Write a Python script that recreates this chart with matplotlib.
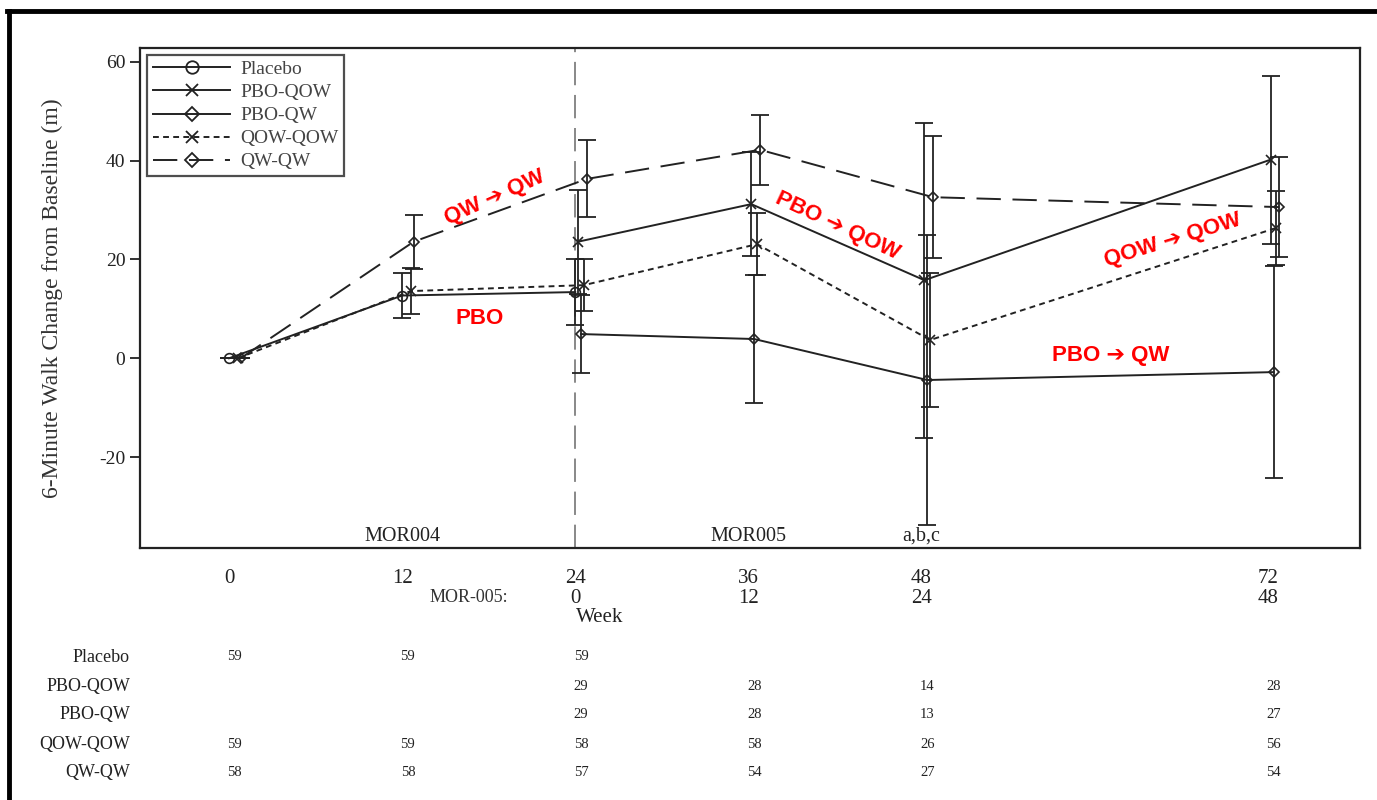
import matplotlib
matplotlib.use("Agg")
import matplotlib.pyplot as plt
from matplotlib.lines import Line2D
from matplotlib.transforms import blended_transform_factory

plt.rcParams["axes.unicode_minus"] = False

# ---- data ----
groups = ["Placebo", "PBO-QOW", "PBO-QW", "QOW-QOW", "QW-QW"]

placebo_wk = [0, 12, 24]
placebo_mean = [0.0, 12.7, 13.4]
placebo_err = [0.0, 4.5, 6.6]

pbo_qow_wk = [24, 36, 48, 72]
pbo_qow_mean = [23.6, 31.2, 15.8, 40.2]
pbo_qow_err = [10.5, 10.6, 31.9, 17.0]

pbo_qw_wk = [24, 36, 48, 72]
pbo_qw_mean = [4.9, 3.9, -4.4, -2.8]
pbo_qw_err = [7.9, 13.0, 29.3, 21.5]

qow_qow_wk = [0, 12, 24, 36, 48, 72]
qow_qow_mean = [0.0, 13.6, 14.8, 23.1, 3.7, 26.4]
qow_qow_err = [0.0, 4.6, 5.3, 6.3, 13.6, 7.5]

qw_qw_wk = [0, 12, 24, 36, 48, 72]
qw_qw_mean = [0.0, 23.6, 36.3, 42.2, 32.6, 30.6]
qw_qw_err = [0.0, 5.5, 7.8, 7.1, 12.3, 10.2]

week_ticks = [0, 12, 24, 36, 48, 72]
week_labels = ["0", "12", "24\n0", "36\n12", "48\n24", "72\n48"]

# subjects at risk table
n_weeks = [0, 12, 24, 36, 48, 72]
n_placebo = [59, 59, 59, None, None, None]
n_pbo_qow = [None, None, 29, 28, 14, 28]
n_pbo_qw = [None, None, 29, 28, 13, 27]
n_qow_qow = [59, 59, 58, 58, 26, 56]
n_qw_qw = [58, 58, 57, 54, 27, 54]

SERIF = ["Liberation Serif", "DejaVu Serif"]
INK = "#222222"

fig = plt.figure(figsize=(13.77, 8.0), dpi=100)
ax = fig.add_axes([0.1017, 0.315, 0.886, 0.625])

series = [
    (placebo_wk, placebo_mean, placebo_err, "o", "-", 0.0),
    (pbo_qow_wk, pbo_qow_mean, pbo_qow_err, "x", "-", 0.2),
    (pbo_qw_wk, pbo_qw_mean, pbo_qw_err, "D", "-", 0.4),
    (qow_qow_wk, qow_qow_mean, qow_qow_err, "x", (0, (3, 2.2)), 0.6),
    (qw_qw_wk, qw_qw_mean, qw_qw_err, "D", (0, (12.5, 6)), 0.8),
]

handles = []
for name, (wk, m, e, mk, ls, off) in zip(groups, series):
    xs = [w + off for w in wk]
    ax.errorbar(xs, m, yerr=e, fmt="none", ecolor=INK, elinewidth=1.3,
                capsize=6.5, capthick=1.3, zorder=2)
    ms = 5.5 if mk == "D" else 7
    ax.plot(xs, m, color=INK, lw=1.4, ls=ls, marker=mk, ms=ms,
            mfc="none", mec=INK, mew=1.2, zorder=3)
    handles.append(Line2D([], [], color=INK, lw=1.4, ls=ls, marker=mk,
                          ms=ms + 2, mfc="none", mec=INK, mew=1.3))

ax.axvline(24, color="#888888", lw=1.4, ls=(0, (12, 5)), zorder=1)

ax.set_xlim(-6.17, 78.4)
ax.set_ylim(-38.4, 62.8)
ax.set_yticks([60, 40, 20, 0, -20])
ax.set_xticks(week_ticks)
ax.set_xticklabels(week_labels, fontfamily=SERIF, fontsize=15,
                   linespacing=1.05, color=INK)
ax.tick_params(axis="x", length=0, pad=15)
ax.tick_params(axis="y", length=7, width=1.3, labelsize=14, colors=INK)
for lbl in ax.get_yticklabels():
    lbl.set_fontfamily(SERIF)
for sp in ax.spines.values():
    sp.set_linewidth(1.6)
    sp.set_color(INK)

ax.set_ylabel("6-Minute Walk Change from Baseline (m)", fontfamily=SERIF,
              fontsize=17, color="#333333", labelpad=26)

leg = ax.legend(handles, groups, loc="upper left", handlelength=4.0,
                prop={"family": SERIF, "size": 14}, fancybox=False,
                edgecolor=INK, borderaxespad=0.35, labelspacing=0.28,
                handletextpad=0.5, borderpad=0.3)
leg.get_frame().set_linewidth(1.6)
for t in leg.get_texts():
    t.set_color("#444444")

# study labels along the bottom of the plot
for xw, s in [(12, "MOR004"), (36, "MOR005"), (48, "a,b,c")]:
    ax.text(xw, 0.004, s, transform=blended_transform_factory(ax.transData, ax.transAxes),
            ha="center", va="bottom", fontfamily=SERIF, fontsize=14.5, color=INK)

# second x-axis row label and axis title
fig.text(508 / 1377, 1 - 598 / 800, "MOR-005:", ha="right", va="center",
         fontfamily=SERIF, fontsize=13, color="#333333")
fig.text(600 / 1377, 1 - 618 / 800, "Week", ha="center", va="center",
         fontfamily=SERIF, fontsize=15, color=INK)

# red annotations
RED_FONT = ["Liberation Sans", "DejaVu Sans"]
notes = [
    ("QW \u2794 QW", 18.4, 32.6, 24),
    ("PBO", 17.4, 8.1, 0),
    ("PBO \u2794 QOW", 42.2, 26.7, -25),
    ("QOW \u2794 QOW", 65.4, 23.9, 17),
    ("PBO \u2794 QW", 61.1, 0.6, 0),
]
for s, xw, yv, rot in notes:
    ax.text(xw, yv, s, color="#ff0000", fontweight="bold", fontsize=16,
            fontfamily=RED_FONT, rotation=rot,
            ha="center", va="center", rotation_mode="anchor", zorder=5)

# number of subjects table
tbl = blended_transform_factory(ax.transData, fig.transFigure)
rows = [n_placebo, n_pbo_qow, n_pbo_qw, n_qow_qow, n_qw_qw]
row_y = [657, 686, 715, 744, 773]
for name, vals, py in zip(groups, rows, row_y):
    fig.text(130 / 1377, 1 - py / 800, name, ha="right", va="center",
             fontfamily=SERIF, fontsize=13, color=INK)
    for wk, v in zip(n_weeks, vals):
        if v is None:
            continue
        ax.text(wk + 0.4, 1 - py / 800, str(v), transform=tbl, ha="center",
                va="center", fontfamily=SERIF, fontsize=10.5, color=INK,
                clip_on=False)

# thick page border (top and left)
fig.add_artist(Line2D([7 / 1377, 1.0], [1 - 11 / 800, 1 - 11 / 800],
                      color="black", lw=3.5, transform=fig.transFigure))
fig.add_artist(Line2D([9 / 1377, 9 / 1377], [0.0, 1 - 11 / 800],
                      color="black", lw=3.5, transform=fig.transFigure))

fig.savefig("out.png", dpi=100, facecolor="white")
